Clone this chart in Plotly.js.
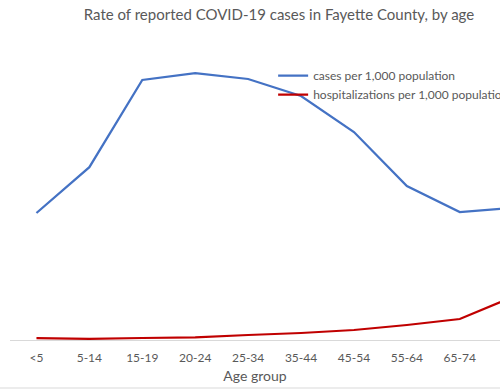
<!DOCTYPE html>
<html>
<head>
<meta charset="utf-8">
<script src="https://cdn.plot.ly/plotly-3.0.1.min.js"></script>
<style>html,body{margin:0;padding:0;background:#fff;}#chart{width:500px;height:391px;overflow:hidden;}</style>
</head>
<body>
<div id="chart"></div>
<script>
const ageGroups = ["<5", "5-14", "15-19", "20-24", "25-34", "35-44", "45-54", "55-64", "65-74", "75+"];
const casesPer1000 = [63.5, 86.4, 130, 133.4, 130.5, 122, 104, 77, 64, 66];
const hospPer1000 = [0.9, 0.6, 1.0, 1.3, 2.5, 3.5, 5.0, 7.5, 10.5, 21.5];

const txt = "#595959";
const fontFam = "Lato, 'Open Sans', 'Liberation Sans', sans-serif";

const traces = [
  {x: ageGroups, y: casesPer1000, name: "cases per 1,000 population", type: "scatter", mode: "lines",
   line: {color: "#4472C4", width: 2.25}},
  {x: ageGroups, y: hospPer1000, name: "hospitalizations per 1,000 population", type: "scatter", mode: "lines",
   line: {color: "#C00000", width: 2.25}}
];

const layout = {
  width: 500, height: 391,
  margin: {l: 10, r: 0, t: 40, b: 51, autoexpand: false},
  paper_bgcolor: "#fff", plot_bgcolor: "#fff",
  font: {family: fontFam, color: txt, size: 12},
  title: {text: "Rate of reported COVID-19 cases in Fayette County, by age",
          font: {size: 15, color: txt, family: fontFam}, x: 0.558, xanchor: "center", y: 0.962, yanchor: "middle"},
  xaxis: {type: "category", range: [-0.5, 8.76], showgrid: false, zeroline: false, automargin: false,
          showline: true, linecolor: "#d9d9d9", linewidth: 1, ticks: "",
          tickfont: {size: 12, color: txt}, ticklabelstandoff: 7,
          title: {text: "Age group", font: {size: 14, color: txt}, standoff: 6}},
  yaxis: {range: [0, 150], visible: false, showgrid: false, zeroline: false, automargin: false},
  showlegend: true,
  legend: {x: 0.537, y: 0.93, xanchor: "left", yanchor: "top", bgcolor: "rgba(0,0,0,0)",
           font: {size: 12, color: txt}, tracegroupgap: 0, itemwidth: 30},
  shapes: [{type: "line", xref: "paper", yref: "paper", x0: -0.03, x1: 1.0, y0: -0.16, y1: -0.16,
            line: {color: "#d9d9d9", width: 1}}]
};

Plotly.newPlot("chart", traces, layout, {displayModeBar: false, staticPlot: true});
</script>
</body>
</html>
